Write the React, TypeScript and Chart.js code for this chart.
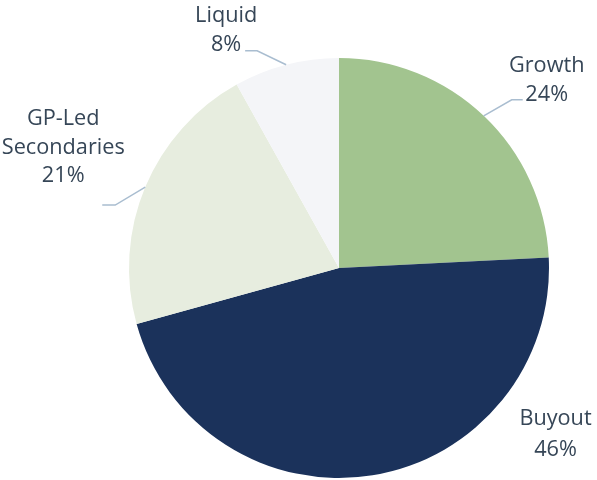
import React, { useEffect, useRef } from "react";
import { Chart, registerables } from "chart.js";

Chart.register(...registerables);

const categories = ["Growth", "Buyout", "GP-Led Secondaries", "Liquid"];
const labelLines = [["Growth", "24%"], ["Buyout", "46%"], ["GP-Led", "Secondaries", "21%"], ["Liquid", "8%"]];
const shares = [24.2, 46.5, 21.2, 8.1];
const colors = ["#a2c48f", "#1b325b", "#e7eddf", "#f4f5f8"];

// label layout offsets relative to the slice's outer-edge midpoint
const labelLayout = [
  { line: true, elbow: [28, -16], run: 11, text: [63, -44], lh: 29 },
  { line: false, elbow: [0, 0], run: 0, text: [183, -50], lh: 30.5 },
  { line: true, elbow: [-30, 18], run: -13, text: [-82, -62], lh: 28.7 },
  { line: true, elbow: [-29, -14], run: -12, text: [-60, -42.3], lh: 29 },
];

const labelPlugin = {
  id: "outerLabels",
  afterDatasetsDraw(chart: any) {
    const ctx = chart.ctx;
    const meta = chart.getDatasetMeta(0);
    meta.data.forEach((arc: any, i: number) => {
      const p = arc.getProps(["x", "y", "startAngle", "endAngle", "outerRadius"], true);
      const mid = (p.startAngle + p.endAngle) / 2;
      const ex = p.x + Math.cos(mid) * p.outerRadius;
      const ey = p.y + Math.sin(mid) * p.outerRadius;
      const L = labelLayout[i];
      ctx.save();
      if (L.line) {
        ctx.strokeStyle = "#a9bdd0";
        ctx.lineWidth = 1.5;
        ctx.beginPath();
        ctx.moveTo(ex, ey);
        ctx.lineTo(ex + L.elbow[0], ey + L.elbow[1]);
        ctx.lineTo(ex + L.elbow[0] + L.run, ey + L.elbow[1]);
        ctx.stroke();
      }
      ctx.fillStyle = "#364657";
      ctx.font = "21.7px 'Open Sans'";
      ctx.textAlign = "center";
      ctx.textBaseline = "alphabetic";
      labelLines[i].forEach((t, k) => {
        ctx.fillText(t, ex + L.text[0], ey + L.text[1] + k * L.lh);
      });
      ctx.restore();
    });
  },
};

export default function App() {
  const ref = useRef<HTMLCanvasElement>(null);
  useEffect(() => {
    if (!ref.current) return;
    const chart = new Chart(ref.current, {
      type: "pie",
      data: {
        labels: categories,
        datasets: [
          {
            data: shares,
            backgroundColor: colors,
            borderWidth: 0,
          },
        ],
      },
      options: {
        animation: false,
        responsive: false,
        layout: { padding: { left: 129, right: 48, top: 58, bottom: 2 } },
        plugins: { legend: { display: false }, tooltip: { enabled: false } },
      },
      plugins: [labelPlugin],
    });
    return () => chart.destroy();
  }, []);
  return (
    <div style={{ position: "absolute", left: 0, top: 0, width: 597, height: 480, background: "#fff" }}>
      <canvas ref={ref} width={597} height={480} style={{ width: 597, height: 480 }} />
    </div>
  );
}
